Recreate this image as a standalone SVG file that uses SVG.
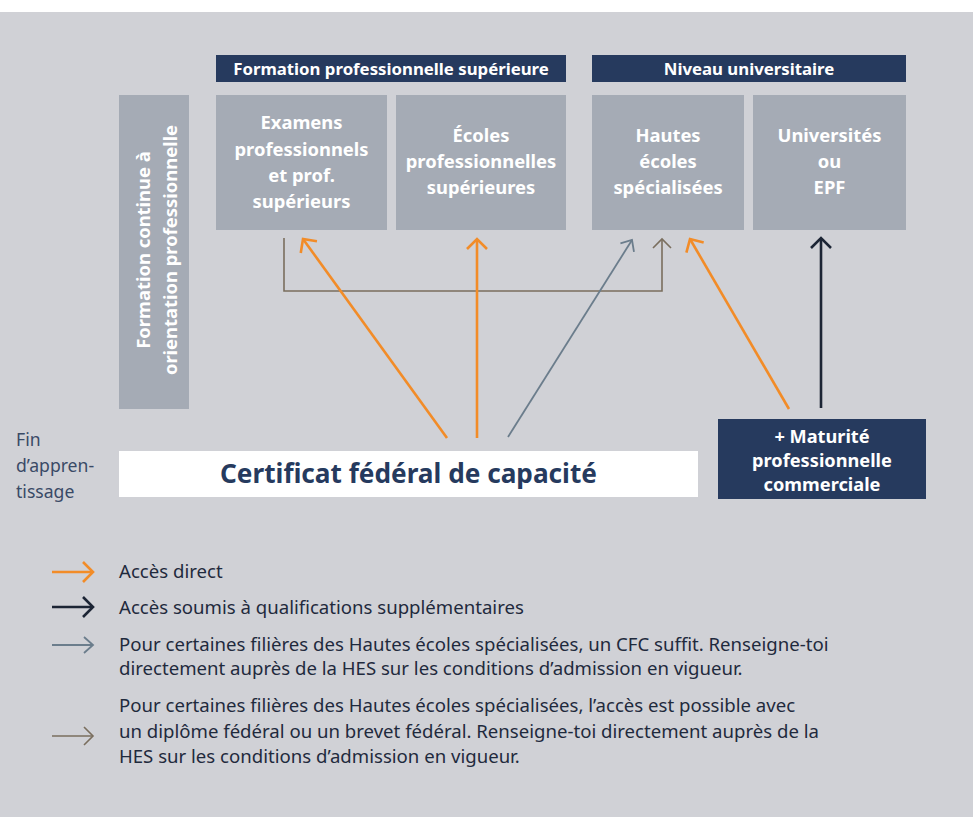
<svg xmlns="http://www.w3.org/2000/svg" width="973" height="817" viewBox="0 0 973 817">
<style>
.bg{fill:#d0d1d6}
.hdr{fill:#263a5e}
.box{fill:#a5abb5}
.t-hdr{font-family:"Noto Sans","Liberation Sans",sans-serif;font-weight:bold;font-size:16.8px;fill:#ffffff;text-anchor:middle}
.t-box{font-family:"Noto Sans","Liberation Sans",sans-serif;font-weight:bold;font-size:18.4px;fill:#ffffff;text-anchor:middle}
.t-mat{font-family:"Noto Sans","Liberation Sans",sans-serif;font-weight:bold;font-size:18.2px;fill:#ffffff;text-anchor:middle}
.t-cert{font-family:"Noto Sans","Liberation Sans",sans-serif;font-weight:bold;font-size:26.2px;fill:#263a5e;text-anchor:middle}
.t-leg{font-family:"Noto Sans","Liberation Sans",sans-serif;font-size:18.6px;fill:#1f2a3d}
.t-side{font-family:"Noto Sans","Liberation Sans",sans-serif;font-size:17.6px;fill:#3a4a66}
.a{fill:none;stroke-linecap:butt;stroke-linejoin:miter}
.or{stroke:#f28c28;stroke-width:2.6}
.nv{stroke:#1c2535;stroke-width:2.6}
.gb{stroke:#6b7d8c;stroke-width:1.8}
.br{stroke:#7a6e5e;stroke-width:1.6}
</style>
<defs>
<marker id="mOr" markerUnits="userSpaceOnUse" markerWidth="24" markerHeight="24" viewBox="-12 -12 24 24" refX="0" refY="0" orient="auto" overflow="visible">
<path d="M-10,-10 L0,0 L-10,10" fill="none" stroke="#f28c28" stroke-width="2.6"/>
</marker>
<marker id="mNv" markerUnits="userSpaceOnUse" markerWidth="24" markerHeight="24" viewBox="-12 -12 24 24" refX="0" refY="0" orient="auto" overflow="visible">
<path d="M-10,-10 L0,0 L-10,10" fill="none" stroke="#1c2535" stroke-width="2.6"/>
</marker>
<marker id="mGb" markerUnits="userSpaceOnUse" markerWidth="24" markerHeight="24" viewBox="-12 -12 24 24" refX="0" refY="0" orient="auto" overflow="visible">
<path d="M-9,-8 L0,0 L-9,8" fill="none" stroke="#6b7d8c" stroke-width="1.8"/>
</marker>
<marker id="mBr" markerUnits="userSpaceOnUse" markerWidth="24" markerHeight="24" viewBox="-12 -12 24 24" refX="0" refY="0" orient="auto" overflow="visible">
<path d="M-9,-9 L0,0 L-9,9" fill="none" stroke="#7a6e5e" stroke-width="1.6"/>
</marker>
</defs>
<rect x="0" y="0" width="973" height="817" fill="#ffffff"/>
<rect class="bg" x="0" y="12" width="973" height="805"/>

<g id="hdr-formation">
<rect class="hdr" x="216" y="55" width="350" height="27"/>
<text class="t-hdr" x="391" y="74.5">Formation professionnelle supérieure</text>
</g>
<g id="hdr-universitaire">
<rect class="hdr" x="592" y="55" width="314" height="27"/>
<text class="t-hdr" x="749" y="74.5">Niveau universitaire</text>
</g>

<g id="node-formation-continue">
<rect class="box" x="119" y="95" width="70" height="314"/>
<text class="t-box" transform="translate(149.5,250) rotate(-90)">Formation continue à</text>
<text class="t-box" transform="translate(176.5,250) rotate(-90)">orientation professionnelle</text>
</g>

<g id="node-examens">
<rect class="box" x="216" y="95" width="171" height="135"/>
<text class="t-box" x="301.5" y="129">Examens</text>
<text class="t-box" x="301.5" y="156">professionnels</text>
<text class="t-box" x="301.5" y="182">et prof.</text>
<text class="t-box" x="301.5" y="208">supérieurs</text>
</g>
<g id="node-ecoles">
<rect class="box" x="396" y="95" width="170" height="135"/>
<text class="t-box" x="481" y="142">Écoles</text>
<text class="t-box" x="481" y="168">professionnelles</text>
<text class="t-box" x="481" y="194">supérieures</text>
</g>
<g id="node-hes">
<rect class="box" x="592" y="95" width="152" height="135"/>
<text class="t-box" x="668" y="142">Hautes</text>
<text class="t-box" x="668" y="168">écoles</text>
<text class="t-box" x="668" y="194">spécialisées</text>
</g>
<g id="node-universites">
<rect class="box" x="753" y="95" width="153" height="135"/>
<text class="t-box" x="829.5" y="142">Universités</text>
<text class="t-box" x="829.5" y="168">ou</text>
<text class="t-box" x="829.5" y="194">EPF</text>
</g>

<g id="node-cfc">
<rect x="119" y="451" width="579" height="46" fill="#ffffff"/>
<text class="t-cert" x="408.5" y="483">Certificat fédéral de capacité</text>
</g>
<g id="node-maturite">
<rect class="hdr" x="718" y="419" width="208" height="80"/>
<text class="t-mat" x="822" y="443">+ Maturité</text>
<text class="t-mat" x="822" y="467">professionnelle</text>
<text class="t-mat" x="822" y="491">commerciale</text>
</g>

<g id="label-fin">
<text class="t-side" x="16" y="446">Fin</text>
<text class="t-side" x="16" y="472">d’appren-</text>
<text class="t-side" x="16" y="498">tissage</text>
</g>

<g id="connectors">
<path class="a br" d="M284,238 V291 H662 V239" marker-end="url(#mBr)"/>
<path class="a or" d="M447,438 L303,239" marker-end="url(#mOr)"/>
<path class="a or" d="M477,438 L477,239" marker-end="url(#mOr)"/>
<path class="a gb" d="M508,437 L632,240" marker-end="url(#mGb)"/>
<path class="a or" d="M789,409 L690,239" marker-end="url(#mOr)"/>
<path class="a nv" d="M821,408 L821,238" marker-end="url(#mNv)"/>
</g>

<g id="legend">
<path class="a or" d="M52,572 H93" marker-end="url(#mOr)"/>
<text class="t-leg" x="119" y="578">Accès direct</text>
<path class="a nv" d="M52,607 H93" marker-end="url(#mNv)"/>
<text class="t-leg" x="119" y="614">Accès soumis à qualifications supplémentaires</text>
<path class="a gb" d="M52,645 H93" marker-end="url(#mGb)"/>
<text class="t-leg" x="119" y="651">Pour certaines filières des Hautes écoles spécialisées, un CFC suffit. Renseigne-toi</text>
<text class="t-leg" x="119" y="675">directement auprès de la HES sur les conditions d’admission en vigueur.</text>
<path class="a br" d="M52,736 H93" marker-end="url(#mBr)"/>
<text class="t-leg" x="119" y="712">Pour certaines filières des Hautes écoles spécialisées, l’accès est possible avec</text>
<text class="t-leg" x="119" y="738">un diplôme fédéral ou un brevet fédéral. Renseigne-toi directement auprès de la</text>
<text class="t-leg" x="119" y="763">HES sur les conditions d’admission en vigueur.</text>
</g>
</svg>
